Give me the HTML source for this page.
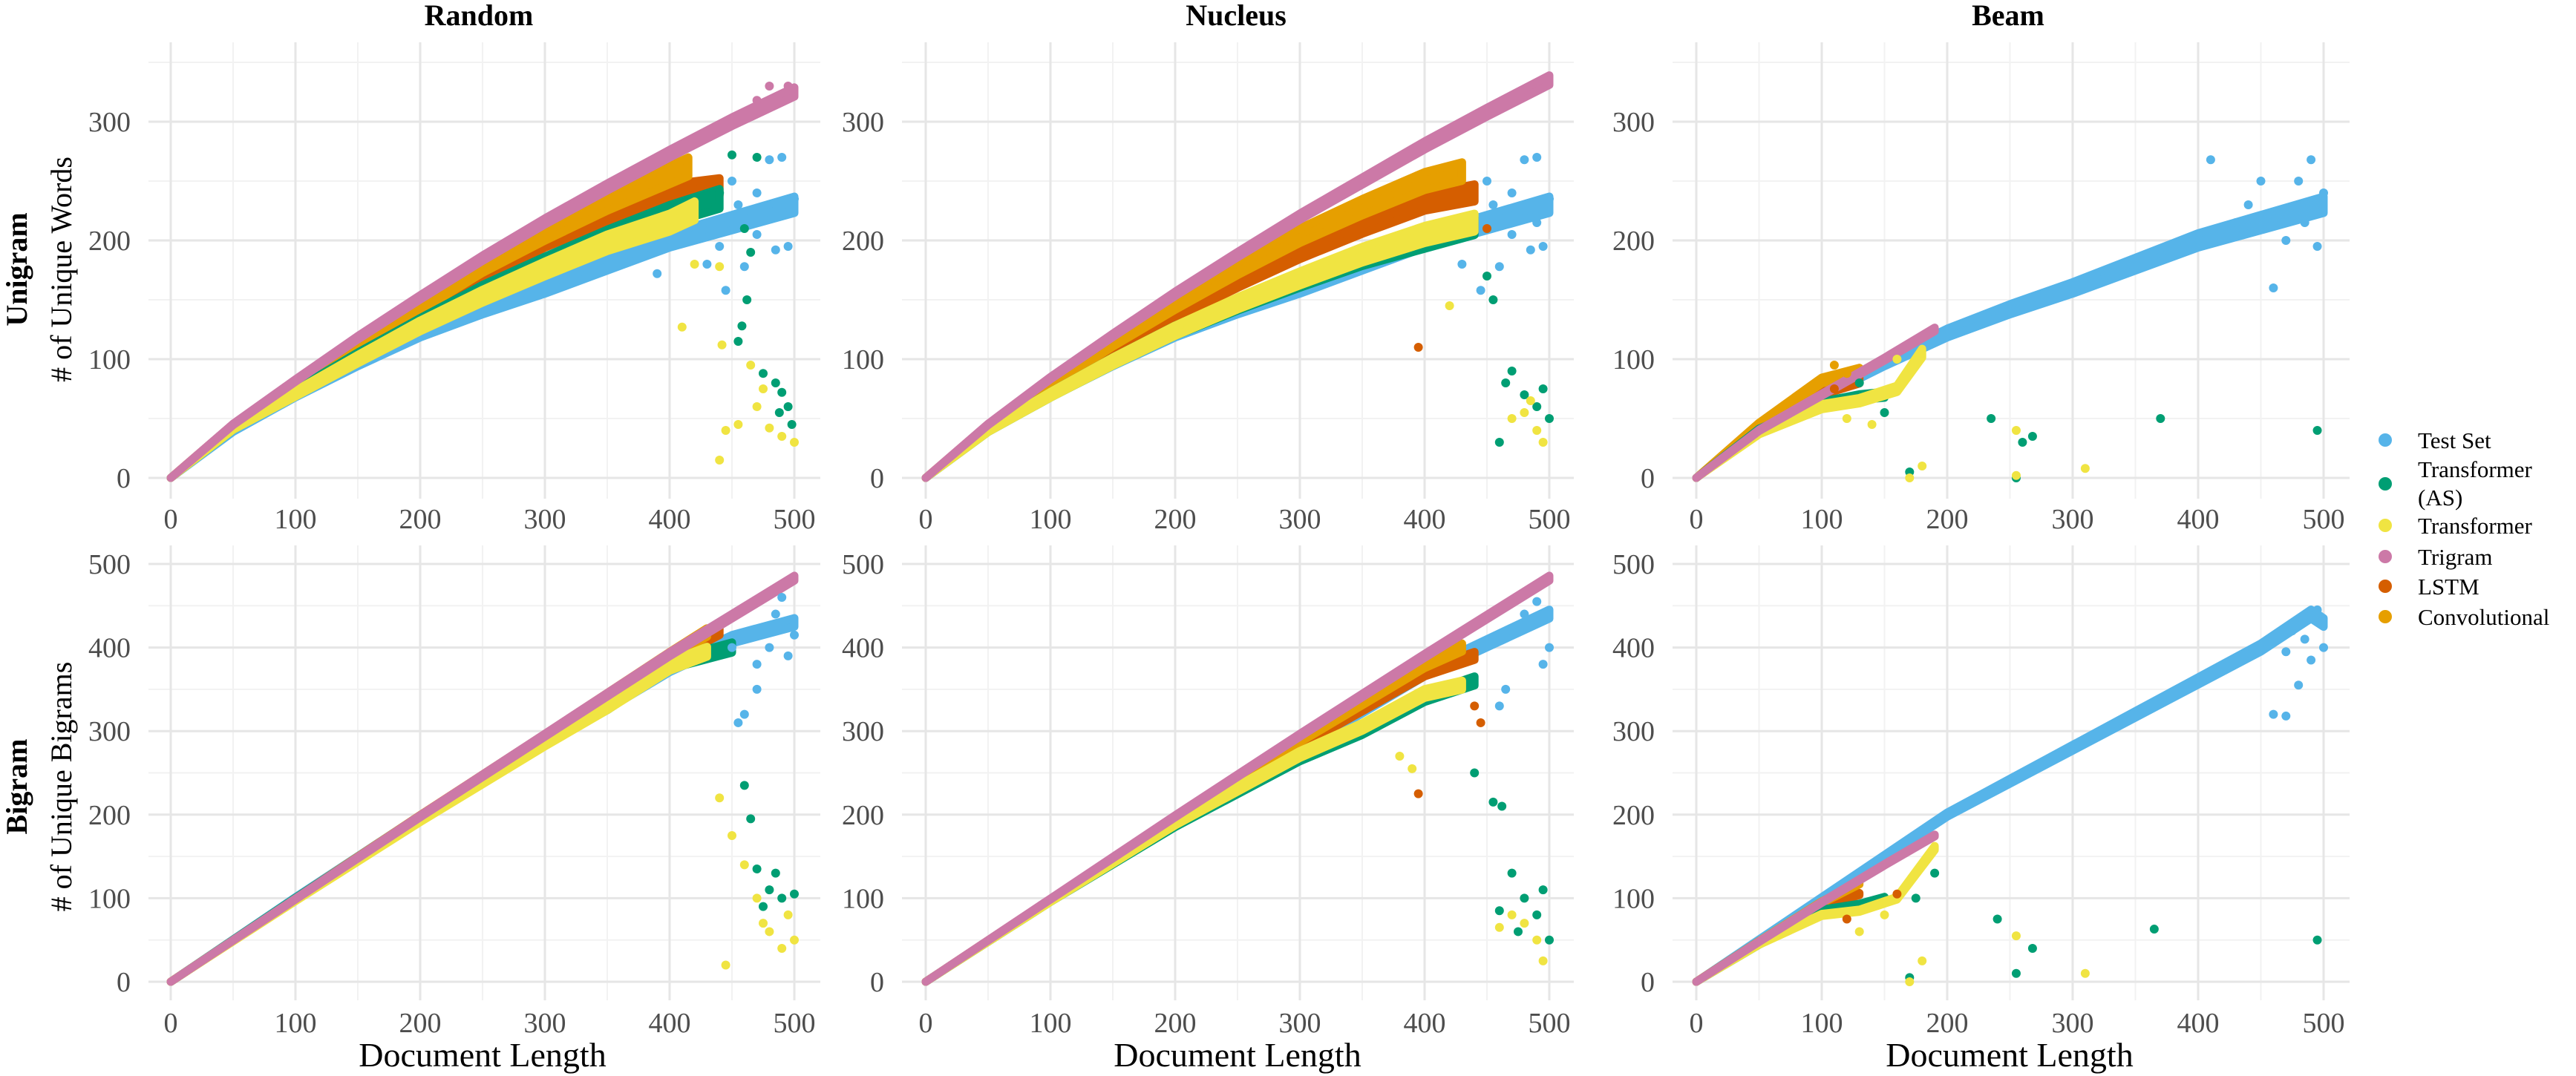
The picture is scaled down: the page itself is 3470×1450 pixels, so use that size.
<!DOCTYPE html>
<html><head><meta charset="utf-8">
<style>
html,body{margin:0;padding:0;background:#fff;}
svg{display:block;font-family:"Liberation Serif",serif;}
</style></head>
<body>
<svg id="chart" width="3470" height="1450" viewBox="0 0 3470 1450" xmlns="http://www.w3.org/2000/svg"></svg>
<script>
// ===== Data =====
const seriesNames = ["Test Set","Transformer (AS)","Transformer","Trigram","LSTM","Convolutional"];
const seriesColors = ["#56B4E9","#009E73","#F0E442","#CC79A7","#D55E00","#E69F00"];
const colTitles = ["Random","Nucleus","Beam"];
const rowTitles = ["Unigram","Bigram"];
const rowAxisTitles = ["# of Unique Words","# of Unique Bigrams"];
const xTicks = [0,100,200,300,400,500];
const yTicksUni = [0,100,200,300];
const yTicksBi = [0,100,200,300,400,500];

const uniRandomTest = [[0,0],[50,40],[100,70],[150,97],[200,122],[250,142],[300,160],[350,180],[400,200],[450,215],[500,230]];
const uniRandomAS = [[0,0],[50,42],[100,72],[150,102],[200,130],[250,157],[300,180],[350,202],[400,222],[440,235]];
const uniRandomTr = [[0,0],[50,42],[100,71],[150,100],[200,128],[250,153],[300,176],[350,198],[400,215],[420,225]];
const uniRandomTri = [[0,0],[50,45],[100,82],[150,118],[200,152],[250,185],[300,216],[350,245],[400,273],[450,300],[500,325]];
const uniRandomLstm = [[0,0],[50,44],[100,76],[150,110],[200,140],[250,172],[300,200],[350,222],[400,240],[440,245]];
const uniRandomConv = [[0,0],[50,44],[100,78],[150,113],[200,145],[250,178],[300,206],[350,232],[400,255],[415,262]];

const uniNucleusTest = [[0,0],[50,40],[100,70],[150,97],[200,122],[250,142],[300,160],[350,180],[400,200],[450,215],[500,230]];
const uniNucleusAS = [[0,0],[50,40],[100,70],[150,98],[200,124],[250,146],[300,166],[350,185],[400,200],[440,212]];
const uniNucleusTr = [[0,0],[50,40],[100,70],[150,98],[200,124],[250,147],[300,168],[350,188],[400,205],[440,215]];
const uniNucleusTri = [[0,0],[50,45],[100,84],[150,120],[200,155],[250,188],[300,220],[350,250],[400,280],[450,308],[500,335]];
const uniNucleusLstm = [[0,0],[50,43],[100,76],[150,108],[200,138],[250,165],[300,190],[350,212],[400,232],[440,240]];
const uniNucleusConv = [[0,0],[50,44],[100,79],[150,114],[200,146],[250,176],[300,204],[350,228],[400,250],[430,258]];

const uniBeamTest = [[0,0],[50,40],[100,70],[150,97],[200,122],[250,142],[300,160],[350,180],[400,200],[450,215],[500,230]];
const uniBeamAS = [[0,0],[50,40],[100,62],[130,68],[150,70]];
const uniBeamTr = [[0,0],[50,38],[100,60],[130,65],[160,75],[180,105]];
const uniBeamTri = [[0,0],[50,40],[100,70],[150,100],[190,125]];
const uniBeamLstm = [[0,0],[50,42],[100,72],[130,82]];
const uniBeamConv = [[0,0],[50,45],[100,82],[130,90]];

const biRandomTest = [[0,0],[100,100],[200,197],[300,290],[350,330],[400,375],[450,410],[500,430]];
const biRandomAS = [[0,0],[100,99],[200,195],[300,288],[350,330],[400,380],[450,400]];
const biRandomTr = [[0,0],[100,98],[200,194],[300,286],[350,330],[400,378],[430,395]];
const biRandomTri = [[0,0],[100,99],[200,198],[300,295],[400,392],[500,483]];
const biRandomLstm = [[0,0],[100,99],[200,197],[300,293],[400,388],[440,420]];
const biRandomConv = [[0,0],[100,99],[200,197],[300,293],[400,390],[430,418]];

const biNucleusTest = [[0,0],[100,98],[200,192],[300,282],[350,325],[400,370],[450,405],[500,440]];
const biNucleusAS = [[0,0],[100,97],[200,188],[300,268],[350,300],[400,340],[440,360]];
const biNucleusTr = [[0,0],[100,97],[200,190],[300,272],[350,305],[400,345],[430,355]];
const biNucleusTri = [[0,0],[100,99],[200,198],[300,295],[400,390],[500,483]];
const biNucleusLstm = [[0,0],[100,98],[200,195],[300,285],[400,370],[440,390]];
const biNucleusConv = [[0,0],[100,98],[200,196],[300,290],[400,380],[430,400]];

const biBeamTest = [[0,0],[100,100],[200,200],[250,240],[300,280],[350,320],[400,360],[450,400],[490,440],[500,430]];
const biBeamAS = [[0,0],[50,45],[100,85],[130,92],[150,100]];
const biBeamTr = [[0,0],[50,45],[100,80],[130,85],[160,100],[190,160]];
const biBeamTri = [[0,0],[50,48],[100,95],[150,140],[190,175]];
const biBeamLstm = [[0,0],[50,48],[100,92],[130,105]];
const biBeamConv = [[0,0],[50,48],[100,95],[130,118]];

const uniRandomScatter = [[0,490,270],[0,480,268],[0,450,250],[0,470,240],[0,495,195],[0,485,192],[0,460,178],[0,445,158],[0,390,172],[0,430,180],[0,470,205],[0,500,235],[0,455,230],[0,475,225],[0,420,205],[0,440,195],[0,465,215],[0,490,225],
 [1,460,210],[1,465,190],[1,462,150],[1,458,128],[1,455,115],[1,475,88],[1,485,80],[1,490,72],[1,495,60],[1,488,55],[1,498,45],[1,450,272],[1,470,270],[1,440,240],[1,430,230],
 [2,410,127],[2,442,112],[2,445,40],[2,455,45],[2,465,95],[2,470,60],[2,480,42],[2,490,35],[2,500,30],[2,440,15],[2,475,75],[2,440,178],[2,420,180],
 [3,480,330],[3,495,330],[3,470,318]];
const uniNucleusScatter = [[0,490,270],[0,480,268],[0,450,250],[0,470,240],[0,495,195],[0,485,192],[0,460,178],[0,445,158],[0,430,180],[0,470,205],[0,500,235],[0,455,230],[0,475,220],[0,490,215],
 [1,470,90],[1,480,70],[1,490,60],[1,500,50],[1,465,80],[1,460,30],[1,495,75],[1,450,170],[1,455,150],
 [2,470,50],[2,480,55],[2,490,40],[2,495,30],[2,420,145],[2,485,65],
 [4,395,110],[4,450,210]];
const uniBeamScatter = [[1,170,5],[1,255,0],[1,260,30],[1,268,35],[1,235,50],[1,370,50],[1,495,40],[1,130,80],[1,150,55],
 [2,170,0],[2,255,40],[2,310,8],[2,180,10],[2,255,2],[2,140,45],[2,120,50],[2,160,100],
 [0,410,268],[0,490,268],[0,480,250],[0,460,160],[0,470,200],[0,495,195],[0,450,250],[0,440,230],[0,500,240],[0,430,215],[0,470,225],[0,485,215],
 [5,110,95],[5,120,88],[4,110,75]];
const biRandomScatter = [[0,460,320],[0,470,350],[0,480,400],[0,490,460],[0,495,390],[0,500,415],[0,470,380],[0,450,400],[0,485,440],[0,455,310],
 [1,460,235],[1,465,195],[1,470,135],[1,480,110],[1,490,100],[1,500,105],[1,485,130],[1,475,90],
 [2,440,220],[2,450,175],[2,460,140],[2,470,100],[2,480,60],[2,490,40],[2,500,50],[2,445,20],[2,495,80],[2,475,70]];
const biNucleusScatter = [[0,470,420],[0,480,440],[0,490,455],[0,500,400],[0,495,380],[0,465,350],[0,460,330],[0,485,430],
 [1,460,85],[1,470,130],[1,480,100],[1,490,80],[1,500,50],[1,440,250],[1,455,215],[1,462,210],[1,475,60],[1,495,110],
 [4,395,225],[4,440,330],[4,445,310],
 [2,460,65],[2,490,50],[2,495,25],[2,470,80],[2,480,70],[2,380,270],[2,390,255]];
const biBeamScatter = [[1,170,5],[1,240,75],[1,255,10],[1,268,40],[1,365,63],[1,495,50],[1,190,130],[1,175,100],
 [2,180,25],[2,255,55],[2,310,10],[2,170,0],[2,130,60],[2,150,80],
 [0,460,320],[0,470,318],[0,480,355],[0,500,400],[0,490,385],[0,475,420],[0,495,445],[0,485,410],[0,470,395],
 [4,160,105],[4,120,75]];

const panelTrends = [
 [uniRandomTest,uniRandomAS,uniRandomTr,uniRandomTri,uniRandomLstm,uniRandomConv],
 [uniNucleusTest,uniNucleusAS,uniNucleusTr,uniNucleusTri,uniNucleusLstm,uniNucleusConv],
 [uniBeamTest,uniBeamAS,uniBeamTr,uniBeamTri,uniBeamLstm,uniBeamConv],
 [biRandomTest,biRandomAS,biRandomTr,biRandomTri,biRandomLstm,biRandomConv],
 [biNucleusTest,biNucleusAS,biNucleusTr,biNucleusTri,biNucleusLstm,biNucleusConv],
 [biBeamTest,biBeamAS,biBeamTr,biBeamTri,biBeamLstm,biBeamConv]];
const panelScatters = [uniRandomScatter,uniNucleusScatter,uniBeamScatter,biRandomScatter,biNucleusScatter,biBeamScatter];

// ===== Layout / style =====
const bandSpread = [[0.03,0.035,0.035,0.012,0.03,0.03],[0.012,0.015,0.015,0.006,0.012,0.012]];
const drawOrder = [0,4,5,1,2,3];
const NS="http://www.w3.org/2000/svg";
const svg=document.getElementById('chart');
function mk(tag,attrs,parent){const e=document.createElementNS(NS,tag);for(const k in attrs)e.setAttribute(k,attrs[k]);(parent||svg).appendChild(e);return e;}
const colX0=[230,1247,2285], colX1=[1070,2087,3130];
const colLeft=[200,1215,2253], colRight=[1105,2120,3165];
const rowTop=[57,735], rowBottom=[672,1348];
const rowY0=[644,1323], rowYMaxPix=[164,760], rowYMax=[300,500];
const rowVmax=[367,523];
function xs(c,v){return colX0[c]+(colX1[c]-colX0[c])*v/500;}
function ys(r,v){return rowY0[r]-(rowY0[r]-rowYMaxPix[r])*v/rowYMax[r];}

for(let r=0;r<2;r++){
 for(let c=0;c<3;c++){
  const p=r*3+c;
  const g=mk('g',{});
  
  
  for(let v=50;v<=500;v+=100){
   const l=mk('line',{x1:xs(c,v),x2:xs(c,v),y1:rowTop[r],y2:rowBottom[r],stroke:'#f2f2f2','stroke-width':2},g);
   
   
  }
  for(let v=50;v<=rowVmax[r];v+=100){
   const l=mk('line',{x1:colLeft[c],x2:colRight[c],y1:ys(r,v),y2:ys(r,v),stroke:'#f2f2f2','stroke-width':2},g);
   
   
  }
  xTicks.forEach(v=>{
   const l=mk('line',{x1:xs(c,v),x2:xs(c,v),y1:rowTop[r],y2:rowBottom[r],stroke:'#e6e6e6','stroke-width':3},g);
   
   
   const t=mk('text',{x:xs(c,v),y:r==0?712:1391,'text-anchor':'middle','font-size':38,fill:'#4d4d4d'},g);
   t.textContent=v;
   
   
  });
  (r==0?yTicksUni:yTicksBi).forEach(v=>{
   const l=mk('line',{x1:colLeft[c],x2:colRight[c],y1:ys(r,v),y2:ys(r,v),stroke:'#e6e6e6','stroke-width':3},g);
   
   
   const t=mk('text',{x:colLeft[c]-24,y:ys(r,v)+13,'text-anchor':'end','font-size':38,fill:'#4d4d4d'},g);
   t.textContent=v;
   
   
  });
  const trends=panelTrends[p];
  drawOrder.forEach(s=>{
   const pts=trends[s];
   const k=bandSpread[r][s];
   const up=pts.map(q=>xs(c,q[0]).toFixed(1)+','+ys(r,q[1]*(1+k)).toFixed(1));
   const lo=pts.slice().reverse().map(q=>xs(c,q[0]).toFixed(1)+','+ys(r,q[1]*(1-k)).toFixed(1));
   const band=mk('polygon',{points:up.concat(lo).join(' '),fill:seriesColors[s],stroke:seriesColors[s],'stroke-width':11,'stroke-linejoin':'round'},g);
   
   
  });
  panelScatters[p].forEach(q=>{
   const pt=mk('circle',{cx:xs(c,q[1]),cy:ys(r,q[2]),r:6,fill:seriesColors[q[0]]},g);
   
   
  });
 }
}
const colCenters=[645,1665,2705];
colTitles.forEach((t,i)=>{
 const e=mk('text',{x:colCenters[i],y:34,'text-anchor':'middle','font-size':40,'font-weight':'bold',fill:'#000'});
 e.textContent=t;
 
 
});
const rowCenters=[363,1060];
rowTitles.forEach((t,i)=>{
 const e=mk('text',{transform:'translate(36,'+rowCenters[i]+') rotate(-90)','text-anchor':'middle','font-size':40,'font-weight':'bold',fill:'#000'});
 e.textContent=t;
 
 
 const a=mk('text',{transform:'translate(96,'+rowCenters[i]+') rotate(-90)','text-anchor':'middle','font-size':40,fill:'#000'});
 a.textContent=rowAxisTitles[i];
 
 
});
[650,1667,2707].forEach(x=>{
 const e=mk('text',{x:x,y:1437,'text-anchor':'middle','font-size':46,fill:'#000'});
 e.textContent='Document Length';
 
 
});
const legY=[593,652,708,750,790,831];
const legend=mk('g',{});


seriesNames.forEach((n,i)=>{
 const d=mk('circle',{cx:3213,cy:legY[i],r:9,fill:seriesColors[i]},legend);
 
 
 if(i==1){
  const t=mk('text',{x:3257,y:643,'font-size':31,fill:'#000'},legend);
  t.textContent='Transformer';
  
  
  const t2=mk('text',{x:3257,y:681,'font-size':31,fill:'#000'},legend);
  t2.textContent='(AS)';
  
  
 } else {
  const t=mk('text',{x:3257,y:legY[i]+11,'font-size':31,fill:'#000'},legend);
  t.textContent=n;
  
  
 }
});
</script>
</body></html>
